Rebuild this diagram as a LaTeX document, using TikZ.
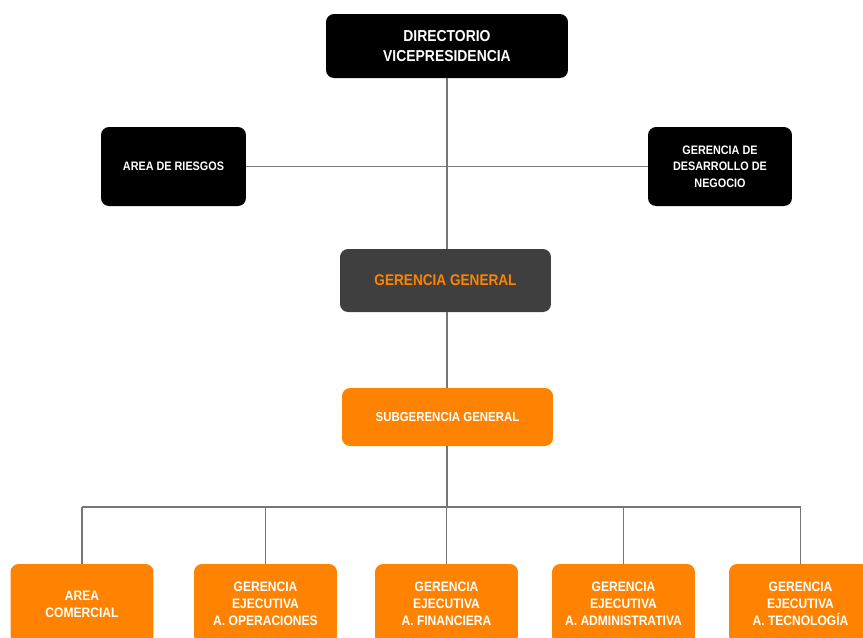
\documentclass[tikz,border=0pt]{standalone}
\usepackage{fontspec}
\setmainfont{Liberation Sans}[FakeStretch=0.88]
\definecolor{naranja}{HTML}{FF8300}
\definecolor{grisosc}{HTML}{3F3F3F}
\definecolor{linea}{HTML}{767676}
\tikzset{
  caja/.style={rounded corners=0.16cm, align=center, inner sep=0pt},
  negra/.style={caja, fill=black, text=white},
  naranjabox/.style={caja, fill=naranja, text=white},
  baja/.style={naranjabox, minimum width=2.86cm, minimum height=1.6cm,
    font=\bfseries\fontsize{7.8}{9.6}\selectfont},
  conector/.style={draw=linea, line width=1.1pt}
}
\begin{document}
\begin{tikzpicture}[x=0.02cm,y=-0.02cm]
    \useasboundingbox (0,0) rectangle (863,637);
    \clip (0,0) rectangle (863,637);
    % nivel superior
    \node[negra, minimum width=4.84cm, minimum height=1.28cm, font=\bfseries\fontsize{9}{11.3}\selectfont] (dir) at (447,46) {DIRECTORIO\\VICEPRESIDENCIA};
    \node[negra, minimum width=2.9cm, minimum height=1.58cm, font=\bfseries\fontsize{7}{9.4}\selectfont] (riesgos) at (173.5,166.5) {AREA DE RIESGOS};
    \node[negra, minimum width=2.88cm, minimum height=1.58cm, font=\bfseries\fontsize{7}{9.4}\selectfont] (desarrollo) at (720,166.5) {GERENCIA DE\\DESARROLLO DE\\NEGOCIO};
    \node[caja, fill=grisosc, text=naranja, minimum width=4.22cm, minimum height=1.26cm, font=\bfseries\fontsize{8.8}{10}\selectfont] (gg) at (445.5,280.5) {GERENCIA GENERAL};
    \node[naranjabox, minimum width=4.22cm, minimum height=1.16cm, font=\bfseries\fontsize{7.4}{9}\selectfont] (sub) at (447.5,417) {SUBGERENCIA GENERAL};
    % nivel inferior
    \node[baja] (comercial) at (82,604) {AREA\\COMERCIAL};
    \node[baja] (operaciones) at (265.5,604) {GERENCIA\\EJECUTIVA\\A. OPERACIONES};
    \node[baja] (financiera) at (446.5,604) {GERENCIA\\EJECUTIVA\\A. FINANCIERA};
    \node[baja] (administrativa) at (623.5,604) {GERENCIA\\EJECUTIVA\\A. ADMINISTRATIVA};
    \node[baja] (tecnologia) at (800.5,604) {GERENCIA\\EJECUTIVA\\A. TECNOLOGÍA};
    % conectores
    \coordinate (bus) at (447,507);
    \draw[conector] (dir.south) -- (dir.south |- gg.north);
    \draw[conector] (riesgos.east) -- (desarrollo.west);
    \draw[conector] (gg.south -| dir.south) -- (sub.north -| dir.south);
    \draw[conector] (sub.south -| dir.south) -- (bus);
    \draw[conector] (comercial.north |- bus) -- (tecnologia.north |- bus);
    \foreach \n in {comercial,operaciones,financiera,administrativa,tecnologia}
        \draw[conector] (\n.north |- bus) -- (\n.north);
\end{tikzpicture}
\end{document}
